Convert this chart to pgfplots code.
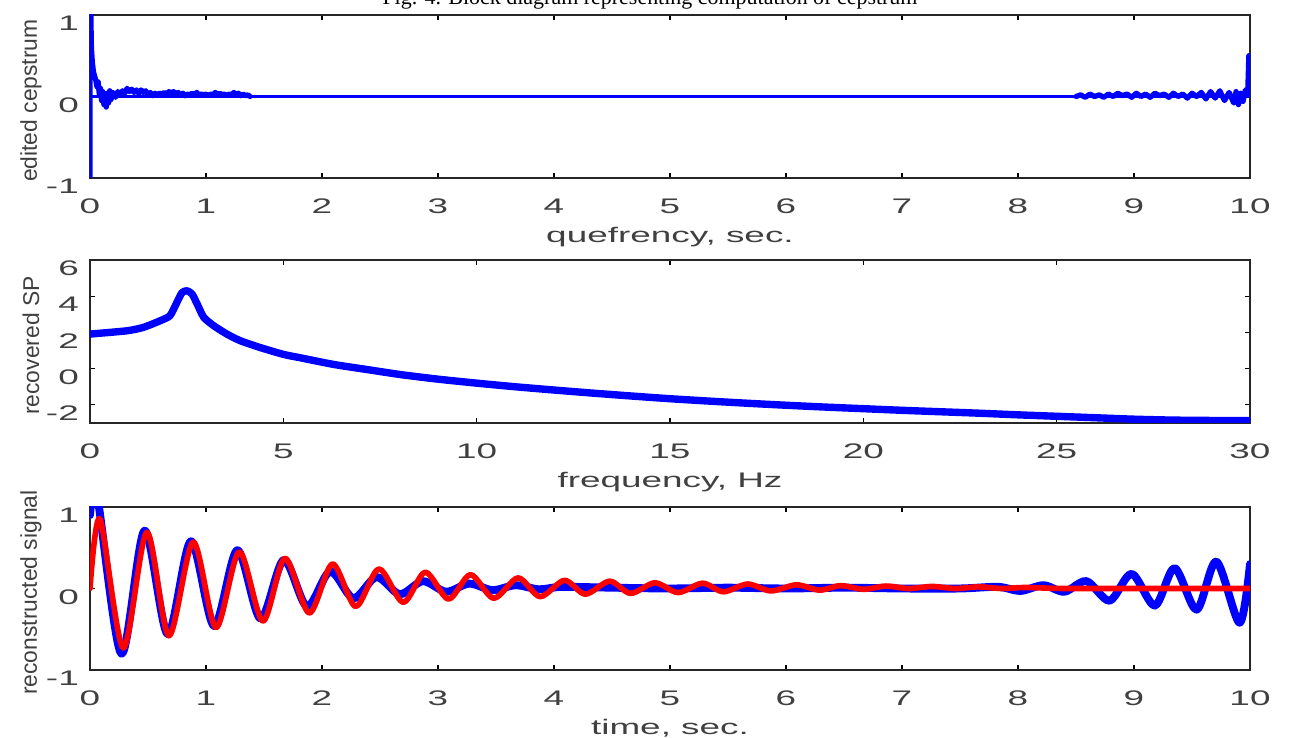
\documentclass[border=0pt]{standalone}
\usepackage{fontspec}
\setmainfont{Liberation Sans}[FakeStretch=1.75]
\newfontfamily\ylabfont{Liberation Sans}
\newfontfamily\capfont{Liberation Serif}
\usepackage{pgfplots}
\pgfplotsset{compat=1.18}

\pgfplotsset{
  panel/.style={
    scale only axis, width=23.2cm, height=3.26cm,
    axis line style={black!85, line width=0.6pt},
    tick style={black, line width=0.6pt},
    major tick length=0.1cm,
    tick align=inside,
    tick label style={font=\fontsize{12}{14}\selectfont, text=black!75},
    xticklabel style={yshift=-0.3cm},
    yticklabel style={xshift=-0.1cm, yshift=-0.17cm},
    every axis x label/.style={at={(axis description cs:0.5,-0.36)}, anchor=center,
      font=\fontsize{12}{14}\selectfont, text=black!75},
    every axis y label/.style={at={(axis description cs:-0.0509,0.475)}, anchor=center,
      rotate=90, font=\ylabfont\fontsize{13}{15}\selectfont, text=black!75},
  },
  sig/.style={line join=round, line cap=round},
}

\begin{document}
\begin{tikzpicture}
\node[font=\capfont\fontsize{12.5}{14}\selectfont, anchor=base] at (13.0cm,-0.1cm)
  {Fig. 4. Block diagram representing computation of cepstrum};

% edited cepstrum
\begin{axis}[panel, at={(1.8cm,-0.3cm)}, anchor=north west,
  xmin=0, xmax=10, ymin=-1, ymax=1,
  xtick={0,1,2,3,4,5,6,7,8,9,10}, xticklabels={0,1,2,3,4,5,6,7,8,9,10},
  ytick={-1,0,1}, yticklabels={-1,0,1},
  xlabel={quefrency, sec.}, ylabel={edited cepstrum}]
  \addplot[blue, sig, line width=1.5pt] coordinates {(0,0)(10,0)};
  \addplot[blue, sig, line width=3pt] coordinates {
    (0,-1.5)(0,1.5)(0.005,1.2)(0.012,0.6)(0.02,0.42)(0.03,0.3)(0.04,0.25)(0.05,0.2)
    (0.06,0.12)(0.07,0.18)(0.08,0.03)(0.09,0.1)(0.10,-0.05)(0.11,0.06)(0.12,-0.1)
    (0.13,0.02)(0.14,-0.13)(0.15,0.04)(0.16,-0.08)(0.17,0.07)(0.18,-0.04)(0.20,0.05)
    (0.22,-0.01)(0.24,0.06)(0.26,0.02)(0.28,0.07)(0.30,0.04)(0.32,0.1)(0.34,0.06)
    (0.36,0.09)(0.38,0.05)(0.40,0.08)(0.42,0.04)(0.44,0.08)(0.46,0.05)(0.48,0.07)
    (0.50,0.02)(0.52,0.05)(0.54,0.01)(0.56,0.04)(0.58,0.02)(0.60,0.04)(0.62,0.03)
    (0.64,0.05)(0.66,0.03)(0.68,0.06)(0.70,0.04)(0.72,0.06)(0.74,0.03)(0.76,0.05)
    (0.78,0.02)(0.80,0.04)(0.82,0.01)(0.84,0.03)(0.86,0.02)(0.88,0.04)(0.90,0.02)
    (0.92,0.05)(0.94,0.02)(0.96,0.03)(0.98,0.02)(1.00,0.03)(1.02,0.01)(1.04,0.03)
    (1.06,0.02)(1.08,0.05)(1.10,0.02)(1.12,0.04)(1.14,0.02)(1.16,0.03)(1.18,0.01)
    (1.20,0.03)(1.22,0.02)(1.24,0.05)(1.26,0.02)(1.28,0.04)(1.30,0.01)(1.32,0.03)
    (1.34,0.01)(1.36,0.02)(1.38,0)};
  \addplot[blue, sig, line width=3pt] coordinates {
    (8.50,0)(8.54,0.02)(8.58,-0.01)(8.62,0.03)(8.66,0.0)(8.70,0.02)(8.74,-0.01)
    (8.78,0.03)(8.82,0.0)(8.86,0.04)(8.90,0.01)(8.94,0.03)(8.98,-0.01)(9.02,0.04)
    (9.06,0.0)(9.10,0.03)(9.14,-0.01)(9.18,0.04)(9.22,0.01)(9.26,0.03)(9.30,-0.01)
    (9.34,0.04)(9.38,0.0)(9.42,0.03)(9.46,-0.02)(9.50,0.04)(9.54,0.0)(9.58,0.05)
    (9.62,-0.03)(9.66,0.06)(9.70,-0.02)(9.74,0.07)(9.78,-0.05)(9.82,0.05)(9.86,-0.08)
    (9.88,0.06)(9.90,-0.1)(9.92,0.04)(9.94,-0.06)(9.96,0.08)(9.98,0.02)(9.99,0.5)(10.0,0.1)};
\end{axis}

% recovered spectrum
\begin{axis}[panel, at={(1.8cm,-5.2cm)}, anchor=north west,
  xmin=0, xmax=30, ymin=-3, ymax=6,
  xtick={0,5,10,15,20,25,30}, xticklabels={0,5,10,15,20,25,30},
  ytick={-2,0,2,4,6}, yticklabels={-2,0,2,4,6},
  xlabel={frequency, Hz}, ylabel={recovered SP}]
  \addplot[blue, sig, line width=4.2pt, smooth, tension=0.4] coordinates {
    (0,1.91)(0.95,2.09)(1.38,2.28)(1.82,2.65)(2.07,2.93)(2.25,3.67)(2.38,4.2)
    (2.51,4.3)(2.64,4.12)(2.77,3.58)(2.94,2.84)(3.2,2.37)(3.54,1.91)(3.89,1.54)
    (4.41,1.16)(5.0,0.79)(5.44,0.6)(6.31,0.23)(7.17,-0.05)(8.04,-0.33)(9,-0.58)
    (10,-0.8)(11,-1.0)(12,-1.18)(13,-1.35)(14,-1.51)(15,-1.66)(16,-1.79)(17,-1.91)
    (18,-2.02)(19,-2.12)(20,-2.21)(21,-2.3)(22,-2.38)(23,-2.46)(24,-2.55)(25,-2.63)
    (26,-2.71)(27,-2.79)(28,-2.84)(29,-2.86)(30,-2.86)};
\end{axis}

% reconstructed signal
\begin{axis}[panel, at={(1.8cm,-10.14cm)}, anchor=north west,
  xmin=0, xmax=10, ymin=-1, ymax=1,
  xtick={0,1,2,3,4,5,6,7,8,9,10}, xticklabels={0,1,2,3,4,5,6,7,8,9,10},
  ytick={-1,0,1}, yticklabels={-1,0,1},
  xlabel={time, sec.}, ylabel={reconstructed signal}]
  \addplot[blue, sig, line width=4.5pt, smooth] coordinates {
    (0,0.9)(0.06,1.15)(0.27,-0.8)(0.47,0.71)(0.67,-0.56)(0.87,0.58)(1.07,-0.46)
    (1.27,0.47)(1.47,-0.37)(1.67,0.35)(1.87,-0.22)(2.07,0.21)(2.27,-0.12)(2.47,0.14)
    (2.67,-0.07)(2.87,0.09)(3.07,-0.04)(3.27,0.06)(3.47,-0.02)(3.67,0.04)(3.87,-0.01)
    (4.07,0.02)(4.5,0.01)(5,0.0)(5.5,0.01)(6,0.0)(6.5,0.01)(7,0.0)(7.5,0.0)(7.83,0.02)
    (8.02,-0.03)(8.22,0.04)(8.40,-0.04)(8.59,0.09)(8.79,-0.15)(8.98,0.18)(9.18,-0.21)
    (9.35,0.25)(9.54,-0.26)(9.71,0.33)(9.91,-0.42)(10.0,0.30)};
  \addplot[red, sig, line width=3.2pt, smooth] coordinates {
    (0,0)(0.086,0.85)(0.287,-0.73)(0.49,0.69)(0.68,-0.58)(0.89,0.57)(1.086,-0.48)
    (1.287,0.45)(1.49,-0.40)(1.68,0.37)(1.89,-0.30)(2.09,0.30)(2.29,-0.22)(2.49,0.24)
    (2.70,-0.17)(2.89,0.20)(3.09,-0.13)(3.28,0.17)(3.48,-0.12)(3.69,0.13)(3.88,-0.10)
    (4.09,0.10)(4.27,-0.07)(4.48,0.09)(4.66,-0.06)(4.87,0.07)(5.07,-0.05)(5.28,0.065)
    (5.46,-0.04)(5.67,0.055)(5.87,-0.03)(6.09,0.045)(6.29,-0.02)(6.47,0.035)(6.67,-0.01)
    (6.86,0.03)(7.06,0.0)(7.26,0.025)(7.46,0.0)(7.66,0.02)(7.86,0.0)(8.06,0.012)
    (8.4,0.0)(9,0.0)(10,0.0)};
\end{axis}

\pgfresetboundingbox
\useasboundingbox (0,0) rectangle (25.88cm,-14.76cm);
\end{tikzpicture}
\end{document}
